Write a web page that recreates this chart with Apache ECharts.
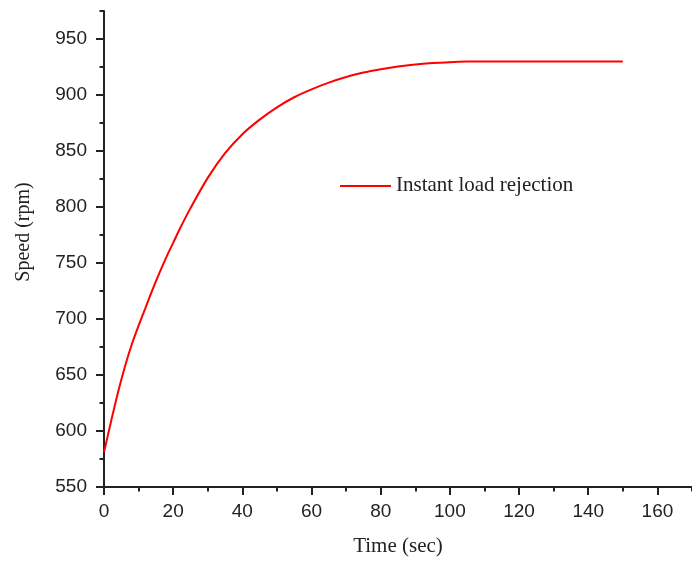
<!DOCTYPE html>
<html>
<head>
<meta charset="utf-8">
<script src="https://cdn.jsdelivr.net/npm/echarts@6/dist/echarts.min.js"></script>
<style>
  html, body { margin: 0; padding: 0; background: #ffffff; }
  #chart { width: 692px; height: 562px; }
</style>
</head>
<body>
<div id="chart"></div>
<script>
// Rotor speed after an instant load rejection
const timeSec = [0, 2, 4, 6, 8, 10, 12, 14, 16, 18, 20, 22, 25, 30, 35, 40, 45, 50, 55, 60,
                 65, 70, 75, 80, 85, 90, 95, 100, 105, 110, 120, 130, 140, 150];
const speedRpm = [581, 608, 634, 657, 677, 694, 710, 726, 741, 755, 768, 781, 799, 826, 848, 865, 878, 889, 898, 905,
                  911, 916, 920, 923, 925.5, 927.3, 928.5, 929.3, 929.8, 930, 930, 930, 930, 930];

const xTickValues = [0, 20, 40, 60, 80, 100, 120, 140, 160];
const yTickValues = [550, 600, 650, 700, 750, 800, 850, 900, 950];

const seriesName = 'Instant load rejection';
const xAxisName = 'Time (sec)';
const yAxisName = 'Speed (rpm)';

const ink = '#222222';
const lineRed = '#ff0000';
const sansFont = '"Liberation Sans", Arial, sans-serif';
const serifFont = '"Liberation Serif", "Times New Roman", serif';

const points = timeSec.map((t, i) => [t, speedRpm[i]]);

const chart = echarts.init(document.getElementById('chart'), null, { renderer: 'canvas' });

const xRange = { min: 0, max: 170 };
const yRange = { min: 550, max: 975 };

chart.setOption({
  animation: false,
  backgroundColor: '#ffffff',
  grid: { left: 104, right: -6, top: 11, bottom: 74, containLabel: false },
  legend: {
    data: [seriesName],
    left: 340,
    top: 175.4,
    padding: 0,
    icon: 'rect',
    itemWidth: 51,
    itemHeight: 2,
    itemStyle: { color: lineRed },
    textStyle: { fontFamily: serifFont, fontSize: 21, color: ink }
  },
  xAxis: [
    {
      type: 'value', ...xRange, position: 'bottom',
      axisLine: { show: true, onZero: false, lineStyle: { color: ink, width: 2 } },
      axisTick: { show: true, inside: false, length: 8, customValues: xTickValues,
                  lineStyle: { color: ink, width: 2 } },
      axisLabel: { customValues: xTickValues, fontFamily: sansFont, fontSize: 19, color: ink, margin: 15 },
      splitLine: { show: false },
      name: xAxisName, nameLocation: 'middle', nameGap: 49,
      nameTextStyle: { fontFamily: serifFont, fontSize: 21, color: ink }
    },
    {
      // minor ticks every 10 s
      type: 'value', ...xRange, interval: 10, position: 'bottom',
      axisLine: { show: false, onZero: false },
      axisTick: { show: true, inside: false, length: 4.5, lineStyle: { color: ink, width: 2 } },
      axisLabel: { show: false },
      splitLine: { show: false }
    }
  ],
  yAxis: [
    {
      type: 'value', ...yRange, position: 'left',
      axisLine: { show: true, onZero: false, lineStyle: { color: ink, width: 2 } },
      axisTick: { show: true, inside: false, length: 8, customValues: yTickValues,
                  lineStyle: { color: ink, width: 2 } },
      axisLabel: { customValues: yTickValues, fontFamily: sansFont, fontSize: 19, color: ink, margin: 17 },
      splitLine: { show: false },
      name: yAxisName, nameLocation: 'middle', nameGap: 70, nameRotate: 90,
      nameTextStyle: { fontFamily: serifFont, fontSize: 20, color: ink, padding: [0, 0, 0, 34] }
    },
    {
      // minor ticks every 25 rpm
      type: 'value', ...yRange, interval: 25, position: 'left',
      axisLine: { show: false, onZero: false },
      axisTick: { show: true, inside: false, length: 4.5, lineStyle: { color: ink, width: 2 } },
      axisLabel: { show: false },
      splitLine: { show: false }
    }
  ],
  series: [
    {
      name: seriesName,
      type: 'line',
      xAxisIndex: 0,
      yAxisIndex: 0,
      data: points,
      smooth: 0.3,
      symbol: 'none',
      lineStyle: { color: lineRed, width: 2 },
      itemStyle: { color: lineRed }
    }
  ]
});
</script>
</body>
</html>
